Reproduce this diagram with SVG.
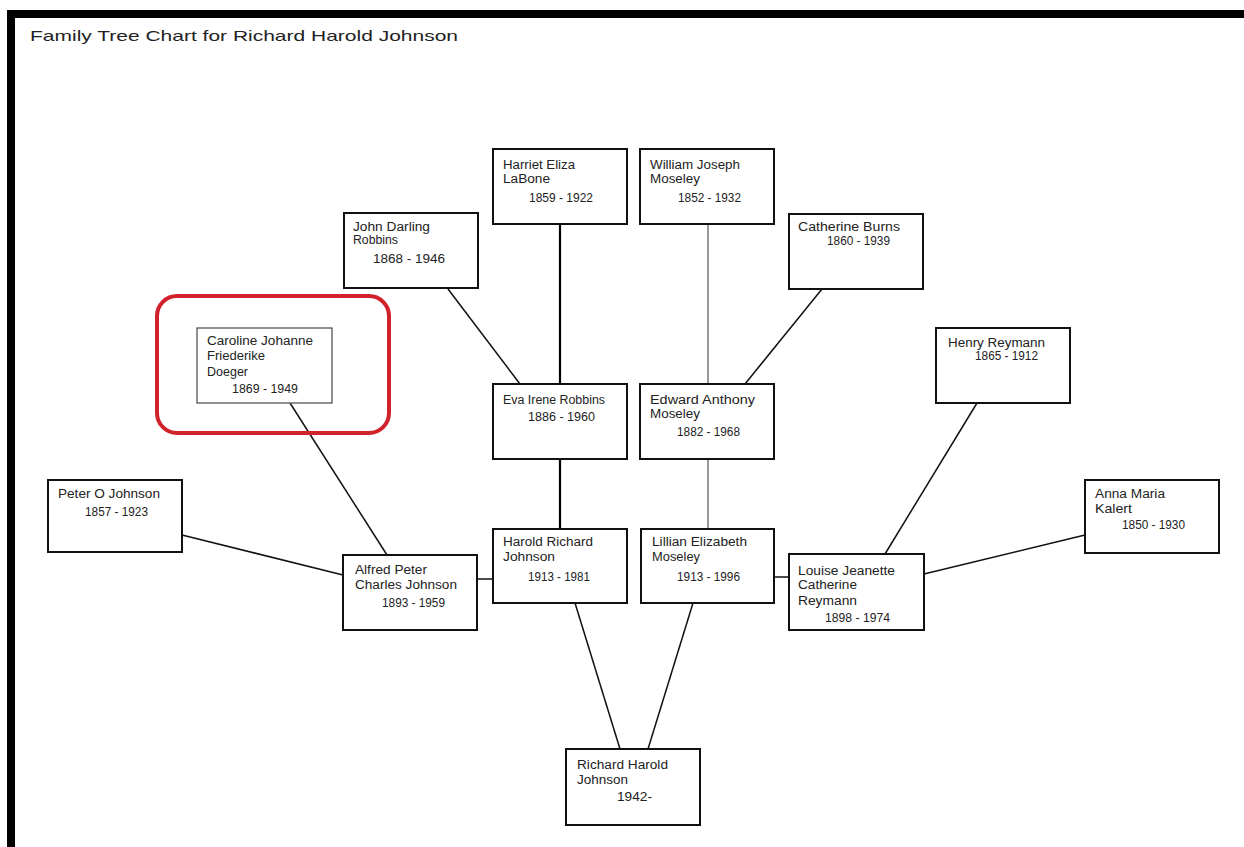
<svg xmlns="http://www.w3.org/2000/svg" width="1244" height="847" viewBox="0 0 1244 847">
<style>
.box{fill:#fff;stroke:#111;stroke-width:2}
.thin{fill:#fff;stroke:#555;stroke-width:1.3}
.t{font-family:"Liberation Sans",Arial,sans-serif;font-size:12px;fill:#222}
.title{font-family:"Liberation Sans",Arial,sans-serif;font-size:15px;fill:#222}
.c{stroke:#111;stroke-width:1.5;fill:none}
.ck{stroke:#000;stroke-width:2.2;fill:none}
.cg{stroke:#555;stroke-width:1.2;fill:none}
</style>
<rect width="1244" height="847" fill="#fff"/>
<g id="frame">
<rect x="7" y="10" width="1237" height="8" fill="#000"/>
<rect x="7" y="10" width="8" height="837" fill="#000"/>
</g>
<text class="title" x="30" y="41" textLength="428" lengthAdjust="spacingAndGlyphs">Family Tree Chart for Richard Harold Johnson</text>
<g id="connectors">
<line class="ck" x1="560" y1="224" x2="560" y2="384"/>
<line class="cg" x1="708" y1="224" x2="708" y2="384"/>
<line class="c" x1="448" y1="289" x2="520" y2="384"/>
<line class="c" x1="822" y1="289" x2="745" y2="384"/>
<line class="ck" x1="560" y1="459" x2="560" y2="529"/>
<line class="cg" x1="708" y1="459" x2="708" y2="529"/>
<line class="c" x1="290" y1="403" x2="387" y2="555"/>
<line class="c" x1="182" y1="535" x2="343" y2="575"/>
<line class="c" x1="477" y1="579" x2="493" y2="579"/>
<line class="c" x1="774" y1="577" x2="789" y2="577"/>
<line class="c" x1="977" y1="403" x2="885" y2="554"/>
<line class="c" x1="924" y1="574" x2="1085" y2="535"/>
<line class="c" x1="575" y1="603" x2="620" y2="749"/>
<line class="c" x1="693" y1="603" x2="648" y2="749"/>
</g>
<g id="highlight">
<rect x="157" y="296" width="232" height="137" rx="20" ry="20" fill="none" stroke="#d1222c" stroke-width="4"/>
</g>
<g id="n-harriet">
<rect class="box" x="493" y="149" width="134" height="75"/>
<text class="t" x="503" y="169" textLength="72" lengthAdjust="spacingAndGlyphs">Harriet Eliza</text>
<text class="t" x="503" y="183" textLength="47" lengthAdjust="spacingAndGlyphs">LaBone</text>
<text class="t" x="529" y="202" textLength="64" lengthAdjust="spacingAndGlyphs">1859 - 1922</text>
</g>
<g id="n-william">
<rect class="box" x="640" y="149" width="134" height="75"/>
<text class="t" x="650" y="169" textLength="90" lengthAdjust="spacingAndGlyphs">William Joseph</text>
<text class="t" x="650" y="183" textLength="50" lengthAdjust="spacingAndGlyphs">Moseley</text>
<text class="t" x="678" y="202" textLength="63" lengthAdjust="spacingAndGlyphs">1852 - 1932</text>
</g>
<g id="n-john">
<rect class="box" x="344" y="213" width="134" height="75"/>
<text class="t" x="353" y="231" textLength="77" lengthAdjust="spacingAndGlyphs">John Darling</text>
<text class="t" x="353" y="244" textLength="45" lengthAdjust="spacingAndGlyphs">Robbins</text>
<text class="t" x="373" y="263" textLength="72" lengthAdjust="spacingAndGlyphs">1868 - 1946</text>
</g>
<g id="n-catherine">
<rect class="box" x="789" y="214" width="134" height="75"/>
<text class="t" x="798" y="231" textLength="102" lengthAdjust="spacingAndGlyphs">Catherine Burns</text>
<text class="t" x="827" y="245" textLength="63" lengthAdjust="spacingAndGlyphs">1860 - 1939</text>
</g>
<g id="n-henry">
<rect class="box" x="936" y="328" width="134" height="75"/>
<text class="t" x="948" y="347" textLength="97" lengthAdjust="spacingAndGlyphs">Henry Reymann</text>
<text class="t" x="975" y="360" textLength="63" lengthAdjust="spacingAndGlyphs">1865 - 1912</text>
</g>
<g id="n-caroline">
<rect class="thin" x="197" y="328" width="135" height="75"/>
<text class="t" x="207" y="345" textLength="106" lengthAdjust="spacingAndGlyphs">Caroline Johanne</text>
<text class="t" x="207" y="360" textLength="58" lengthAdjust="spacingAndGlyphs">Friederike</text>
<text class="t" x="207" y="376" textLength="41" lengthAdjust="spacingAndGlyphs">Doeger</text>
<text class="t" x="232" y="393" textLength="66" lengthAdjust="spacingAndGlyphs">1869 - 1949</text>
</g>
<g id="n-eva">
<rect class="box" x="493" y="384" width="134" height="75"/>
<text class="t" x="503" y="404" textLength="102" lengthAdjust="spacingAndGlyphs">Eva Irene Robbins</text>
<text class="t" x="528" y="421" textLength="67" lengthAdjust="spacingAndGlyphs">1886 - 1960</text>
</g>
<g id="n-edward">
<rect class="box" x="640" y="384" width="134" height="75"/>
<text class="t" x="650" y="404" textLength="105" lengthAdjust="spacingAndGlyphs">Edward Anthony</text>
<text class="t" x="650" y="418" textLength="50" lengthAdjust="spacingAndGlyphs">Moseley</text>
<text class="t" x="677" y="436" textLength="63" lengthAdjust="spacingAndGlyphs">1882 - 1968</text>
</g>
<g id="n-peter">
<rect class="box" x="48" y="480" width="134" height="72"/>
<text class="t" x="58" y="498" textLength="102" lengthAdjust="spacingAndGlyphs">Peter O Johnson</text>
<text class="t" x="85" y="516" textLength="63" lengthAdjust="spacingAndGlyphs">1857 - 1923</text>
</g>
<g id="n-alfred">
<rect class="box" x="343" y="555" width="134" height="75"/>
<text class="t" x="355" y="574" textLength="72" lengthAdjust="spacingAndGlyphs">Alfred Peter</text>
<text class="t" x="355" y="589" textLength="102" lengthAdjust="spacingAndGlyphs">Charles Johnson</text>
<text class="t" x="382" y="607" textLength="63" lengthAdjust="spacingAndGlyphs">1893 - 1959</text>
</g>
<g id="n-harold">
<rect class="box" x="493" y="529" width="134" height="74"/>
<text class="t" x="503" y="546" textLength="90" lengthAdjust="spacingAndGlyphs">Harold Richard</text>
<text class="t" x="503" y="561" textLength="52" lengthAdjust="spacingAndGlyphs">Johnson</text>
<text class="t" x="528" y="581" textLength="62" lengthAdjust="spacingAndGlyphs">1913 - 1981</text>
</g>
<g id="n-lillian">
<rect class="box" x="641" y="529" width="133" height="74"/>
<text class="t" x="652" y="546" textLength="95" lengthAdjust="spacingAndGlyphs">Lillian Elizabeth</text>
<text class="t" x="652" y="561" textLength="48" lengthAdjust="spacingAndGlyphs">Moseley</text>
<text class="t" x="677" y="581" textLength="63" lengthAdjust="spacingAndGlyphs">1913 - 1996</text>
</g>
<g id="n-louise">
<rect class="box" x="789" y="554" width="135" height="76"/>
<text class="t" x="798" y="575" textLength="97" lengthAdjust="spacingAndGlyphs">Louise Jeanette</text>
<text class="t" x="798" y="589" textLength="59" lengthAdjust="spacingAndGlyphs">Catherine</text>
<text class="t" x="798" y="605" style="font-size:13px" textLength="59" lengthAdjust="spacingAndGlyphs">Reymann</text>
<text class="t" x="825" y="622" textLength="65" lengthAdjust="spacingAndGlyphs">1898 - 1974</text>
</g>
<g id="n-anna">
<rect class="box" x="1085" y="480" width="134" height="73"/>
<text class="t" x="1095" y="498" textLength="70" lengthAdjust="spacingAndGlyphs">Anna Maria</text>
<text class="t" x="1095" y="513" style="font-size:13px" textLength="37" lengthAdjust="spacingAndGlyphs">Kalert</text>
<text class="t" x="1122" y="529" textLength="63" lengthAdjust="spacingAndGlyphs">1850 - 1930</text>
</g>
<g id="n-richard">
<rect class="box" x="566" y="749" width="134" height="76"/>
<text class="t" x="577" y="769" textLength="91" lengthAdjust="spacingAndGlyphs">Richard Harold</text>
<text class="t" x="577" y="784" textLength="51" lengthAdjust="spacingAndGlyphs">Johnson</text>
<text class="t" x="617" y="801" textLength="35" lengthAdjust="spacingAndGlyphs">1942-</text>
</g>
</svg>
